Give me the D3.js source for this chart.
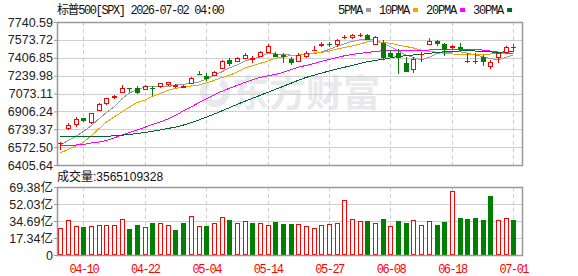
<!DOCTYPE html>
<html>
<head>
<meta charset="utf-8">
<script src="https://cdn.jsdelivr.net/npm/d3@7"></script>
<style>
body { margin: 0; background: #fff; }
svg text { font-family: "Liberation Sans", "Noto Sans CJK SC", sans-serif; }
.mono { font-family: "Liberation Mono", "Noto Sans CJK SC", monospace !important; }
</style>
</head>
<body>
<div id="chart"></div>
<script>
const title = "标普500[SPX] 2026-07-02 04:00";
const volTitle = "成交量:3565109328";

const dates = ["04-07","04-08","04-09","04-10","04-13","04-14","04-15","04-16","04-17","04-20",
  "04-21","04-22","04-23","04-24","04-27","04-28","04-29","04-30","05-01","05-04",
  "05-05","05-06","05-07","05-08","05-11","05-12","05-13","05-14","05-15","05-18",
  "05-19","05-20","05-21","05-22","05-26","05-27","05-28","05-29","06-01","06-02",
  "06-03","06-04","06-05","06-08","06-09","06-10","06-11","06-12","06-15","06-16",
  "06-17","06-18","06-22","06-23","06-24","06-25","06-26","06-29","06-30","07-01"];

const open = [6608.2,6748.3,6785.7,6841.7,6809.9,6919.1,6987.3,7040.5,7084.4,7122.6,
  7121.7,7112.4,7123.6,7143.2,7161.8,7143.2,7133.9,7174.0,7257.0,7236.5,
  7245.8,7308.4,7385.9,7376.5,7401.8,7395.2,7423.2,7463.4,7441.9,7435.4,
  7392.4,7379.3,7426.0,7477.4,7530.0,7536.0,7535.2,7595.9,7597.8,7617.4,
  7619.2,7535.2,7547.4,7454.0,7454.0,7355.1,7299.0,7437.2,7532.4,7563.2,
  7535.2,7508.2,7510.0,7378.4,7378.4,7416.7,7329.9,7411.1,7463.4,7502.6];
const high = [6623.2,6795.0,6851.0,6847.2,6891.0,6980.0,7031.0,7059.2,7149.7,7124.5,
  7143.2,7147.8,7143.2,7171.2,7180.5,7161.8,7147.8,7224.4,7286.0,7261.7,
  7280.0,7383.0,7401.8,7411.0,7448.4,7423.2,7472.7,7532.4,7457.8,7448.4,
  7411.1,7448.4,7472.7,7516.6,7556.7,7554.0,7584.7,7616.4,7628.6,7635.1,
  7623.9,7612.7,7572.6,7479.2,7485.8,7411.1,7411.1,7463.4,7588.4,7572.6,
  7541.8,7528.7,7541.8,7448.4,7448.4,7432.5,7385.9,7454.0,7519.3,7535.2];
const low = [6545.7,6732.4,6763.3,6809.9,6788.4,6914.0,6965.8,7019.0,7082.0,7089.9,
  7068.5,7107.7,7049.8,7121.7,7143.2,7127.3,7124.5,7161.8,7252.4,7192.6,
  7241.0,7305.0,7329.9,7372.0,7400.0,7355.1,7411.1,7460.5,7411.1,7360.7,
  7339.2,7376.5,7401.8,7476.0,7504.4,7510.0,7510.0,7579.1,7584.7,7597.8,
  7567.9,7525.9,7392.4,7409.0,7255.2,7273.8,7267.3,7370.0,7530.6,7519.3,
  7423.2,7485.8,7479.2,7355.1,7348.5,7329.9,7301.8,7360.7,7454.0,7463.4];
const close = [6613.9,6779.1,6832.3,6816.5,6888.3,6975.2,7028.4,7045.2,7127.3,7119.8,
  7080.6,7143.2,7119.8,7168.4,7177.7,7147.8,7138.5,7215.1,7253.3,7205.7,
  7276.6,7379.3,7348.5,7407.3,7432.5,7407.3,7457.8,7516.6,7416.7,7411.1,
  7355.1,7432.5,7454.0,7481.1,7532.0,7533.0,7572.6,7599.6,7619.2,7621.1,
  7572.6,7603.4,7401.8,7411.1,7401.8,7276.6,7392.4,7441.0,7563.2,7532.4,
  7479.2,7511.9,7485.8,7374.7,7372.0,7371.0,7369.0,7448.4,7510.0,7506.3];

const ma5 = [6592,6634,6672,6718,6770,6835,6896,6947,7022,7078,7110,7134,7137,7137,7138,
  7152,7157,7171,7180,7208,7241,7274,7311,7339,7376,7395,7414,7448,7442,7437,
  7432,7432,7437,7446,7460,7484,7512,7535,7560,7573,7582,7573,7545,7510,7474,
  7432,7409,7386,7409,7446,7456,7460,7463,7451,7432,7418,7400,7386,7409,7432];
const ma10 = [6520,6550,6583,6616,6676,6742,6807,6854,6900,6947,6989,7012,7045,7073,7103,
  7120,7134,7143,7152,7171,7194,7222,7241,7274,7311,7330,7353,7376,7402,7414,
  7428,7432,7442,7451,7456,7470,7488,7503,7517,7535,7554,7557,7551,7542,7526,
  7512,7498,7479,7468,7458,7448,7442,7439,7439,7439,7439,7442,7444,7446,7448];
const ma20 = [6592,6592,6592,6597,6611,6620,6634,6658,6686,6709,6732,6758,6784,6807,6835,
  6868,6910,6947,6985,7022,7059,7092,7122,7148,7176,7199,7223,7238,7252,7269,
  7295,7319,7335,7353,7372,7391,7409,7425,7437,7448,7456,7465,7472,7476,7479,
  7479,7479,7477,7479,7482,7484,7486,7486,7486,7484,7479,7470,7461,7451,7442];
const ma30 = [6676,6676,6676,6674,6672,6672,6674,6678,6684,6691,6700,6709,6720,6732,6746,
  6760,6778,6800,6825,6852,6880,6910,6940,6970,7000,7027,7055,7083,7111,7139,
  7168,7196,7223,7243,7263,7283,7302,7318,7335,7353,7370,7381,7392,7405,7419,
  7426,7433,7439,7447,7456,7462,7468,7470,7470,7470,7465,7461,7458,7462,7470];

// volume in 亿 (1e8)
const volume = [27.2,35.4,29.3,28.6,29.3,30.3,30.3,30.3,36.4,26.5,30.6,28.2,33.0,32.7,30.3,
  25.5,33.0,39.8,29.3,29.6,32.7,38.8,35.7,32.7,34.4,33.0,32.7,30.6,34.0,31.9,
  31.6,31.6,29.6,27.5,30.3,31.6,32.7,55.8,36.4,34.7,34.7,32.7,36.7,29.3,34.7,
  32.7,35.4,30.3,34.4,30.3,33.7,65.0,37.8,36.4,37.4,35.4,60.2,36.0,37.4,35.65];

const priceTicks = [6405.64,6572.50,6739.37,6906.24,7073.11,7239.98,7406.85,7573.72,7740.59];
const volTicks = [0,17.34,34.69,52.03,69.38];
const dateLabels = ["04-10","04-22","05-04","05-14","05-27","06-08","06-18","07-01"];
const maNames = ["5PMA","10PMA","20PMA","30PMA"];
const maColors = ["#9a9a9a","#f5a200","#ff00ff","#00662e"];
const maSeries = [ma5, ma10, ma20, ma30];

const RED = "#ff0000", GREEN = "#008000";
const W = 578, H = 276;
const pL = 57, pR = 522, pT = 22, pB = 165, vT = 187, vB = 255;

const svg = d3.select("#chart").append("svg")
    .attr("width", W)
    .attr("height", H);

const x = d3.scalePoint().domain(dates).range([60.3, 513.3]);
const y = d3.scaleLinear()
    .domain([priceTicks[0], priceTicks[priceTicks.length - 1]])
    .range([pB, pT]);
const yv = d3.scaleLinear()
    .domain([0, volTicks[volTicks.length - 1]])
    .range([vB, vT]);
const px = d => Math.round(x(d)) + 0.5;

// watermark
const wm = svg.append("g").attr("fill", "#e9e9ed");
wm.append("path")
    .attr("transform", "translate(215,92)")
    .attr("d", d3.arc().innerRadius(8).outerRadius(15).startAngle(0.5).endAngle(5.6)());
wm.append("text")
    .attr("x", 232).attr("y", 107)
    .attr("font-size", 37).attr("font-weight", "bold")
    .style("font-family", "'Noto Sans CJK SC', sans-serif")
    .text("东方财富");

// grid
const grid = svg.append("g").attr("stroke", "#cfcfcf").attr("stroke-width", 1);
priceTicks.slice(1, -1).forEach(t => {
    const yy = Math.round(y(t)) + 0.5;
    grid.append("line").attr("x1", pL).attr("x2", pR).attr("y1", yy).attr("y2", yy);
});
volTicks.slice(1, -1).forEach(t => {
    const yy = Math.round(yv(t)) + 0.5;
    grid.append("line").attr("x1", pL).attr("x2", pR).attr("y1", yy).attr("y2", yy);
});
dateLabels.forEach(d => {
    const xx = px(d);
    grid.append("line").attr("x1", xx).attr("x2", xx).attr("y1", pT).attr("y2", pB)
        .attr("stroke-dasharray", "4,3");
    grid.append("line").attr("x1", xx).attr("x2", xx).attr("y1", vT).attr("y2", vB)
        .attr("stroke-dasharray", "4,3");
});

// moving averages
maSeries.forEach((s, k) => {
    const line = d3.line()
        .x((d, i) => x(dates[i]))
        .y(d => y(d));
    svg.append("path")
        .datum(s)
        .attr("fill", "none")
        .attr("stroke", maColors[k])
        .attr("stroke-width", 1)
        .attr("shape-rendering", "crispEdges")
        .attr("d", line);
});

// candles
const cg = svg.append("g").attr("shape-rendering", "crispEdges");
dates.forEach((d, i) => {
    const c = px(d);
    const up = close[i] >= open[i];
    const col = up ? RED : GREEN;
    const t = Math.round(y(Math.max(open[i], close[i])));
    const b = Math.round(y(Math.min(open[i], close[i])));
    const yh = Math.round(y(high[i])), yl = Math.round(y(low[i]));
    if (up) {
        cg.append("line").attr("x1", c).attr("x2", c).attr("y1", yh).attr("y2", t).attr("stroke", col);
        cg.append("line").attr("x1", c).attr("x2", c).attr("y1", b).attr("y2", yl).attr("stroke", col);
        if (b - t < 1) {
            cg.append("line").attr("x1", c - 2.5).attr("x2", c + 2.5).attr("y1", t + 0.5).attr("y2", t + 0.5).attr("stroke", col);
        } else {
            cg.append("rect").attr("x", c - 2).attr("y", t + 0.5).attr("width", 4).attr("height", b - t)
                .attr("fill", "#fff").attr("stroke", col);
        }
    } else {
        cg.append("line").attr("x1", c).attr("x2", c).attr("y1", yh).attr("y2", yl).attr("stroke", col);
        cg.append("rect").attr("x", c - 2.5).attr("y", t).attr("width", 5).attr("height", Math.max(b - t, 1))
            .attr("fill", col);
    }
});

// volume bars: colour by change from previous close
const vg = svg.append("g").attr("shape-rendering", "crispEdges");
dates.forEach((d, i) => {
    const c = px(d);
    const up = i === 0 || close[i] >= close[i - 1];
    const yt = Math.round(yv(volume[i]));
    if (up) {
        vg.append("rect").attr("x", c - 2).attr("y", yt + 0.5).attr("width", 4).attr("height", vB - yt - 1)
            .attr("fill", "#fff").attr("stroke", RED);
    } else {
        vg.append("rect").attr("x", c - 2.5).attr("y", yt).attr("width", 5).attr("height", vB - yt)
            .attr("fill", GREEN);
    }
});

// borders
[[pT, pB], [vT, vB]].forEach(([a, b]) => {
    svg.append("rect")
        .attr("x", pL + 0.5).attr("y", a + 0.5)
        .attr("width", pR - pL).attr("height", b - a)
        .attr("fill", "none").attr("stroke", "#999").attr("stroke-width", 1.5);
});

// axes
function styleAxis(g) {
    g.select(".domain").remove();
    g.selectAll(".tick line").attr("stroke", "#999");
    g.selectAll(".tick text").attr("fill", "#222").attr("font-size", "12.5px");
}
svg.append("g")
    .attr("transform", `translate(${pL},0)`)
    .call(d3.axisLeft(y).tickValues(priceTicks).tickFormat(d3.format(".2f")).tickSize(3).tickPadding(1))
    .call(styleAxis);
svg.append("g")
    .attr("transform", `translate(${pL},0)`)
    .call(d3.axisLeft(yv).tickValues(volTicks)
        .tickFormat(v => v === 0 ? "0" : v.toFixed(2) + "亿").tickSize(3).tickPadding(1))
    .call(styleAxis);

const xa = svg.append("g")
    .attr("transform", `translate(0,${vB})`)
    .call(d3.axisBottom(x).tickValues(dateLabels).tickSize(0).tickPadding(9));
xa.select(".domain").remove();
xa.selectAll(".tick text")
    .attr("class", "mono")
    .attr("fill", RED)
    .attr("font-size", "12px")
    .style("letter-spacing", "-1.5px");

// titles
svg.append("text")
    .attr("class", "mono")
    .attr("x", pL).attr("y", 13.5)
    .attr("font-size", "12px")
    .style("letter-spacing", "-1.4px")
    .attr("fill", "#111")
    .text(title);

svg.append("text")
    .attr("x", pL).attr("y", 181)
    .attr("font-size", "12px")
    .attr("fill", "#111")
    .text(volTitle);

// legend
let lx = 338;
maNames.forEach((n, k) => {
    const t = svg.append("text")
        .attr("class", "mono")
        .attr("x", lx).attr("y", 13.5)
        .attr("font-size", "12px")
        .style("letter-spacing", "-1.2px")
        .attr("fill", "#111")
        .text(n);
    lx += t.node().getComputedTextLength() + 4;
    svg.append("rect")
        .attr("x", lx).attr("y", 8)
        .attr("width", 5).attr("height", 4)
        .attr("fill", maColors[k]);
    lx += 5 + 8;
});
</script>
</body>
</html>
